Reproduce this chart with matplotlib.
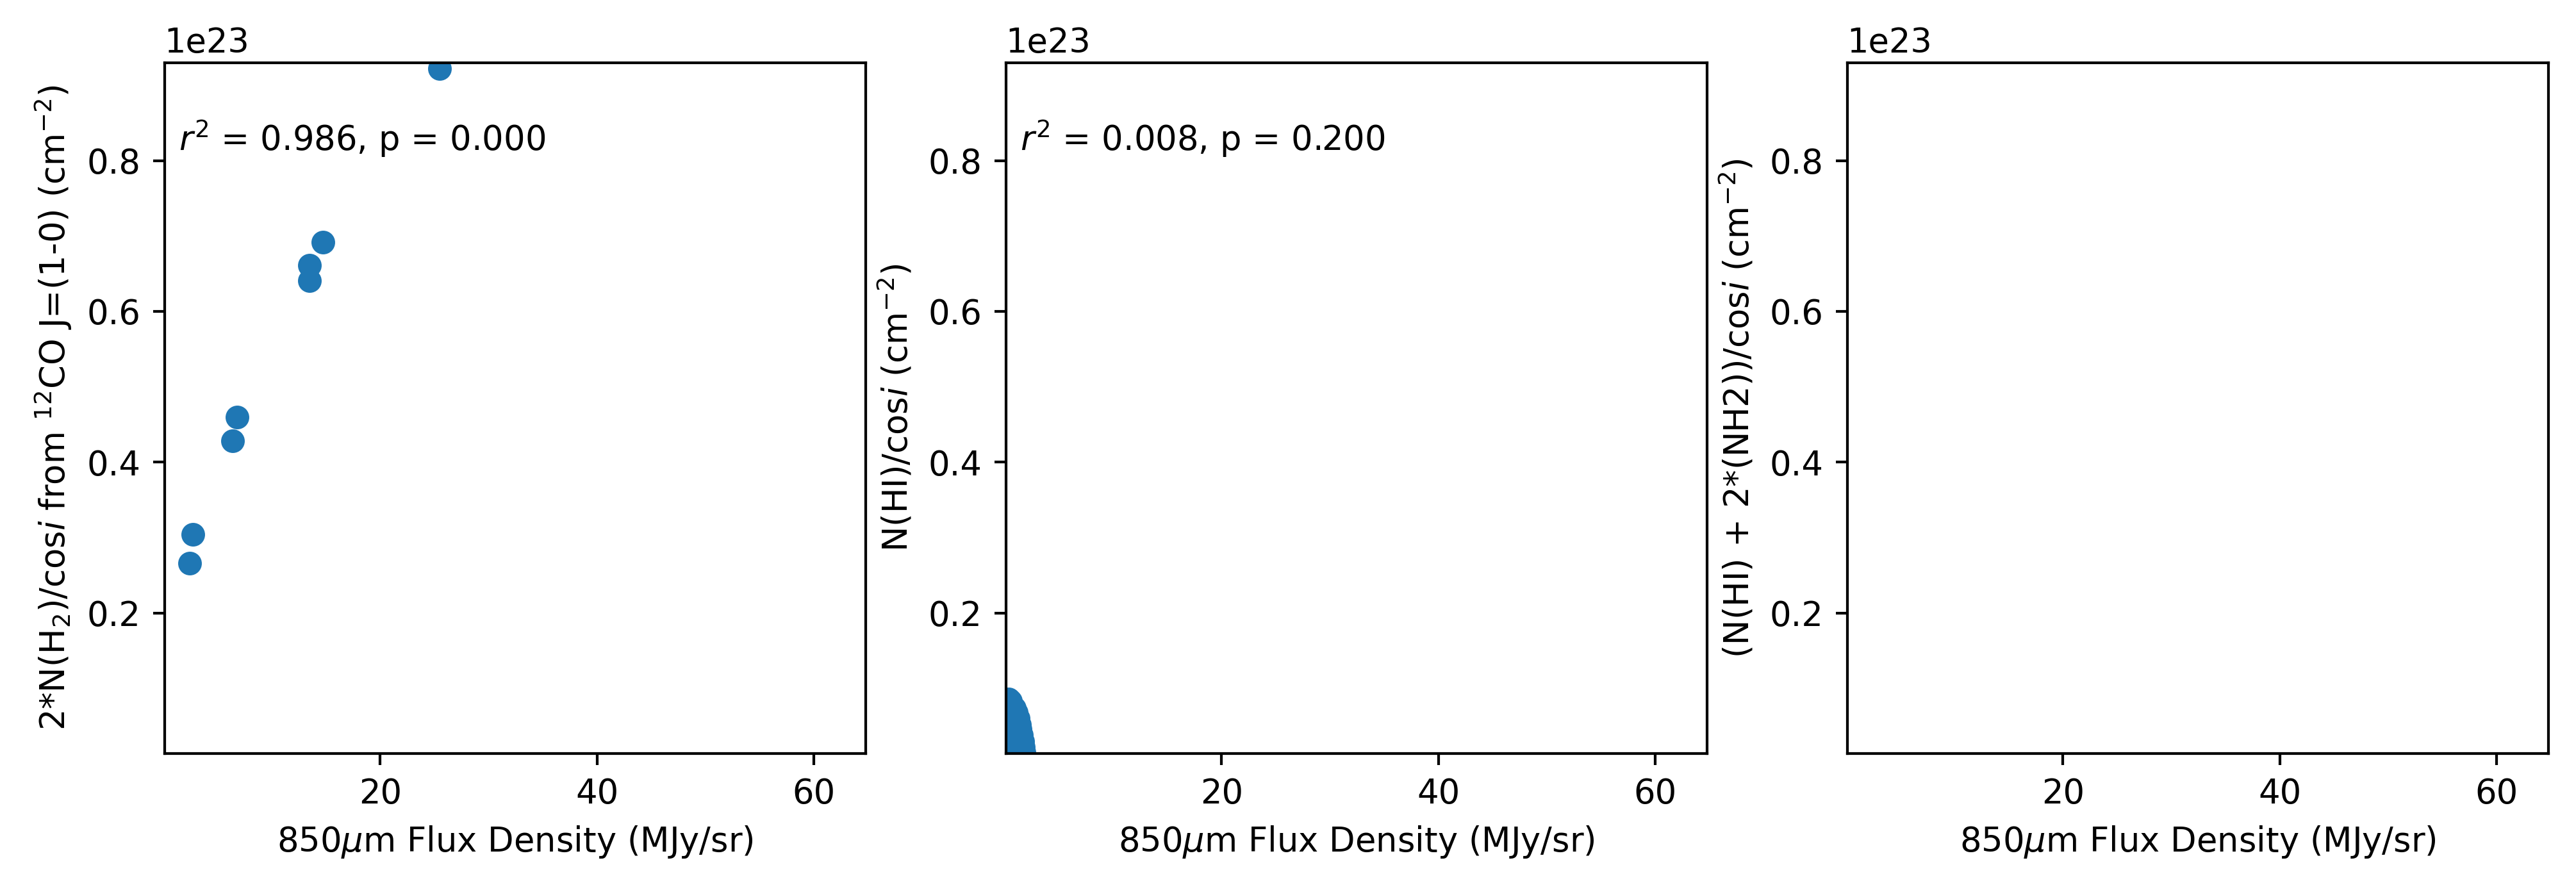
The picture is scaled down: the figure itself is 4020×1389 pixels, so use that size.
import numpy as np
import matplotlib
matplotlib.use("Agg")
import matplotlib.pyplot as plt

# 850um flux (MJy/sr) vs CO-derived 2*N(H2)/cos i
flux_co = [25.5, 14.7, 13.5, 13.5, 6.8, 6.4, 2.7, 2.45]
nh2_co = [0.922, 0.692, 0.661, 0.641, 0.460, 0.428, 0.304, 0.266]  # x1e23

# 850um flux vs N(HI)/cos i
flux_hi = [0.35, 0.55, 0.9, 1.05, 1.25, 1.35, 1.45, 1.55, 1.65, 1.75, 1.78,
           0.8, 0.5, 1.1, 0.3, 0.6]
nhi = [0.086, 0.083, 0.074, 0.068, 0.060, 0.052, 0.046, 0.038, 0.030, 0.022,
       0.015, 0.040, 0.030, 0.020, 0.055, 0.010]  # x1e23

# total column: no valid points
flux_tot = []
ntot = []

stats = [r"$r^2$ = 0.986, p = 0.000", r"$r^2$ = 0.008, p = 0.200", None]
ylabels = [
    r"2*N(H$_2$)/cos$i$ from $^{12}$CO J=(1-0) (cm$^{-2}$)",
    r"N(HI)/cos$i$ (cm$^{-2}$)",
    r"(N(HI) + 2*(NH2))/cos$i$ (cm$^{-2}$)",
]
xlabel = r"850$\mu$m Flux Density (MJy/sr)"

xlim = (0.11, 64.75)
ylim = (0.0138e23, 0.930e23)

fig, axes = plt.subplots(1, 3, figsize=(4020 / 380, 1389 / 380), dpi=380)
fig.subplots_adjust(left=0.06386, right=0.98923, bottom=0.15356, top=0.92966, wspace=0.2)

datasets = [(flux_co, nh2_co), (flux_hi, nhi), (flux_tot, ntot)]
for ax, (fx, ny), txt, lab in zip(axes, datasets, stats, ylabels):
    ax.scatter(fx, np.array(ny, dtype=float) * 1e23, color="#1f77b4")
    ax.set_xlim(*xlim)
    ax.set_ylim(*ylim)
    ax.ticklabel_format(axis="y", style="sci", scilimits=(23, 23))
    ax.set_xlabel(xlabel)
    ax.set_ylabel(lab)
    if txt:
        ax.text(0.02, 0.873, txt, transform=ax.transAxes)

fig.savefig("out.png", dpi=380)
